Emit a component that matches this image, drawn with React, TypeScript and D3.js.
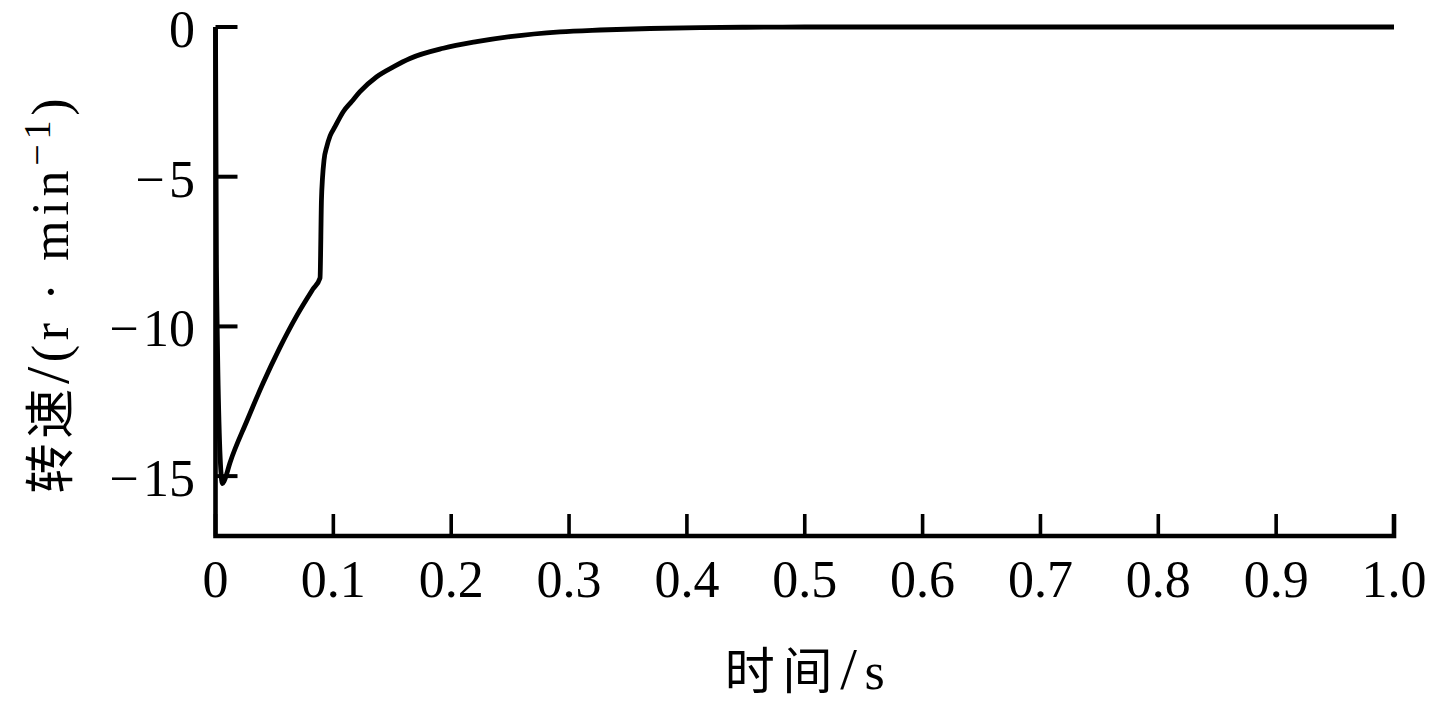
import React from "react";
import * as d3 from "d3";

// time (s)
const timeValues: number[] = [
  0, 0.0008, 0.0045, 0.0059, 0.0075, 0.0123, 0.0267, 0.0403, 0.0547, 0.0691,
  0.0827, 0.0887, 0.0899, 0.0908, 0.0921, 0.0944, 0.0972, 0.1014, 0.1084,
  0.1156, 0.1226, 0.1368, 0.1509, 0.165, 0.1933, 0.2216, 0.2499, 0.2923,
  0.3263, 0.3687, 0.4111, 0.45, 0.5, 0.6, 0.7, 0.8, 0.9, 1.0,
];
// speed (r/min)
const speedValues: number[] = [
  0, -8.0, -14.8, -15.25, -15.15, -14.55, -13.15, -11.9, -10.7, -9.63, -8.75,
  -8.38, -5.78, -5.04, -4.44, -4.0, -3.64, -3.33, -2.83, -2.49, -2.16, -1.66,
  -1.33, -1.05, -0.71, -0.49, -0.32, -0.16, -0.1, -0.05, -0.02, -0.008, 0, 0,
  0, 0, 0, 0,
];
const xTicks: number[] = [0, 0.1, 0.2, 0.3, 0.4, 0.5, 0.6, 0.7, 0.8, 0.9, 1.0];
const xTickLabels: string[] = ["0", "0.1", "0.2", "0.3", "0.4", "0.5", "0.6", "0.7", "0.8", "0.9", "1.0"];
const yTicks: number[] = [0, -5, -10, -15];
const yTickLabels: string[] = ["0", "\u2212\u200A5", "\u2212\u200A10", "\u2212\u200A15"];

const W = 1433;
const H = 708;
const left = 215.5;
const right = 1394;
const top = 27;
const bottom = 536;
const tickLen = 22;
const serif = "'Liberation Serif', 'Times New Roman', serif";
const cjk = "'Noto Sans CJK SC', sans-serif";

export default function App() {
  const x = d3.scaleLinear().domain([0, 1]).range([left, right]);
  const y = d3.scaleLinear().domain([-17, 0]).range([bottom, top]);
  const pts: [number, number][] = timeValues.map((t, i) => [t, speedValues[i]]);
  const line = d3
    .line<[number, number]>()
    .x((d) => x(d[0]))
    .y((d) => y(d[1]))
    .curve(d3.curveMonotoneX);

  return (
    <svg
      width={W}
      height={H}
      style={{ position: "absolute", left: 0, top: 0, background: "#fff" }}
    >
      <rect x={0} y={0} width={W} height={H} fill="#fff" />
      {/* curve */}
      <path d={line(pts) || ""} fill="none" stroke="#000" strokeWidth={4.8} strokeLinejoin="round" />
      {/* axes */}
      <path
        d={`M${left},${y(0)} L${left},${bottom} L${right},${bottom} L${right},${bottom - tickLen}`}
        fill="none"
        stroke="#000"
        strokeWidth={4.6}
        strokeLinejoin="miter"
      />
      {xTicks.map((t, i) => (
        <g key={"xt" + i}>
          <line x1={x(t)} x2={x(t)} y1={bottom} y2={bottom - tickLen} stroke="#000" strokeWidth={3.6} />
          <text
            x={x(t)}
            y={597}
            textAnchor="middle"
            fontFamily={serif}
            fontSize={52}
            fill="#000"
          >
            {xTickLabels[i]}
          </text>
        </g>
      ))}
      {yTicks.map((v, i) => (
        <g key={"yt" + i}>
          <line x1={left} x2={left + tickLen} y1={y(v)} y2={y(v)} stroke="#000" strokeWidth={4} />
          <text
            x={195}
            y={y(v) + 20}
            textAnchor="end"
            fontFamily={serif}
            fontSize={52}
            fill="#000"
          >
            {yTickLabels[i]}
          </text>
        </g>
      ))}
      {/* x label */}
      <text
        x={(left + right) / 2}
        y={689}
        textAnchor="middle"
        fontSize={50}
        fill="#000"
        textLength={160}
        lengthAdjust="spacing"
      >
        <tspan fontFamily={cjk}>时间</tspan>
        <tspan fontFamily={serif} fontSize={60}>/</tspan>
        <tspan fontFamily={serif} fontSize={52}>s</tspan>
      </text>
      {/* y label */}
      <text
        transform={`translate(68,${296}) rotate(-90)`}
        x={0}
        y={0}
        textAnchor="middle"
        fontSize={52}
        fill="#000"
        textLength={395}
        lengthAdjust="spacing"
      >
        <tspan fontFamily={cjk} fontSize={50}>转速</tspan>
        <tspan fontFamily={serif} fontSize={62}>/</tspan>
        <tspan fontFamily={serif}>(r · min</tspan>
        <tspan fontFamily={serif} fontSize={38} dy={-18}>
          {"\u22121"}
        </tspan>
        <tspan fontFamily={serif} dy={18}>
          )
        </tspan>
      </text>
    </svg>
  );
}
